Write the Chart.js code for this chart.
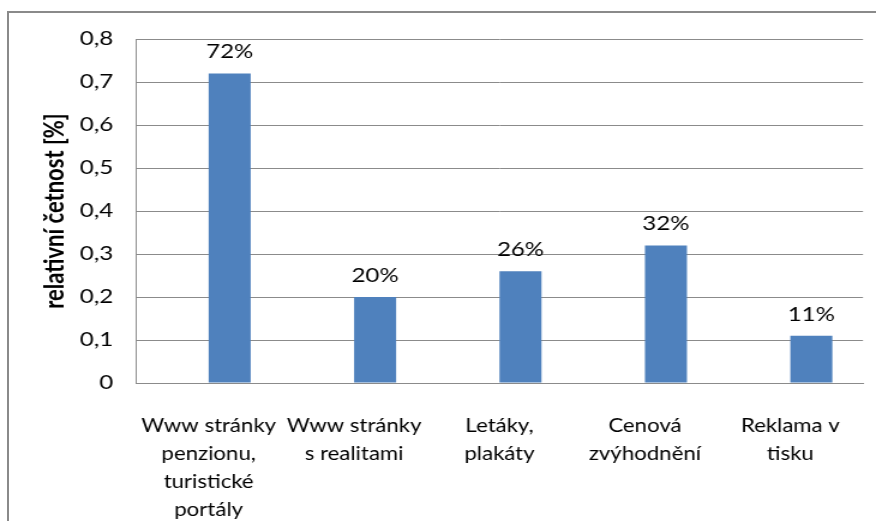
<!DOCTYPE html>
<html>
<head>
<meta charset="utf-8">
<script src="https://cdn.jsdelivr.net/npm/chart.js@4"></script>
<style>
  html, body { margin: 0; padding: 0; background: #fff; overflow: hidden; width: 876px; height: 521px; }
  #frame { position: absolute; left: 7px; top: 11px; width: 2000px; height: 2000px;
           border-left: 2px solid #8a8a8a; border-top: 2px solid #8a8a8a; }
  /* the chart is laid out on a narrower canvas and widened to the page width */
  #wrap { position: absolute; left: 0; top: 0; width: 730px; height: 521px;
          transform: scaleX(1.2); transform-origin: 0 0; }
</style>
</head>
<body>
<div id="frame"></div>
<div id="wrap"><canvas id="c" width="730" height="521"></canvas></div>
<script>
// Categories (multi-line labels)
const categories = [
  ["Www stránky", "penzionu,", "turistické", "portály"],
  ["Www stránky", "s realitami"],
  ["Letáky,", "plakáty"],
  ["Cenová", "zvýhodnění"],
  ["Reklama v", "tisku"]
];
// Relative frequency per promotion channel
const relativeShare = [0.72, 0.20, 0.26, 0.32, 0.11];
// Unused first series of the original workbook (keeps the bars in the right half of each slot)
const emptySeries = [null, null, null, null, null];
// Value axis
const yMin = 0;
const yMax = 0.8;
const yStep = 0.1;
const yTitle = "relativní četnost [%]";

const FONT = "Lato";
const GRID = "#8b8b8b";

const valueLabels = {
  id: "valueLabels",
  afterDatasetsDraw(chart) {
    const meta = chart.getDatasetMeta(1);
    const ctx = chart.ctx;
    ctx.save();
    ctx.font = "20px " + FONT;
    ctx.fillStyle = "#000";
    ctx.textAlign = "center";
    ctx.textBaseline = "alphabetic";
    meta.data.forEach((bar, i) => {
      const v = relativeShare[i];
      ctx.fillText(Math.round(v * 100) + "%", bar.x, bar.y - 15);
    });
    ctx.restore();
  }
};

new Chart(document.getElementById("c"), {
  type: "bar",
  data: {
    labels: categories,
    datasets: [
      { label: "", data: emptySeries, backgroundColor: "#4F81BD" },
      { label: "relativní četnost", data: relativeShare, backgroundColor: "#4F81BD" }
    ]
  },
  options: {
    responsive: false,
    animation: false,
    events: [],
    categoryPercentage: 0.578,
    barPercentage: 1.0,
    layout: { padding: { top: 39, right: 10.8, bottom: 0, left: 0 } },
    plugins: { legend: { display: false }, tooltip: { enabled: false } },
    scales: {
      x: {
        grid: { display: false },
        border: { display: true, color: GRID, width: 1 },
        ticks: {
          color: "#000",
          font: { family: FONT, size: 18.5, lineHeight: "28px" },
          padding: 21,
          maxRotation: 0,
          autoSkip: false
        },
        afterFit(scale) { scale.height = 138; }
      },
      y: {
        min: yMin,
        max: yMax,
        grid: { color: GRID, lineWidth: 1, drawTicks: false },
        border: { display: true, color: GRID, width: 1 },
        ticks: {
          stepSize: yStep,
          color: "#000",
          font: { family: FONT, size: 20 },
          padding: 19,
          callback: (v) => (Math.abs(v) < 1e-9 ? "0" : Number(v).toFixed(1).replace(".", ","))
        },
        title: {
          display: true,
          text: yTitle,
          color: "#000",
          font: { family: FONT, size: 22, weight: "bold" },
          padding: { top: 32.4, bottom: 0 }
        },
        afterFit(scale) { scale.width = 113.3; }
      }
    }
  },
  plugins: [valueLabels]
});
</script>
</body>
</html>
